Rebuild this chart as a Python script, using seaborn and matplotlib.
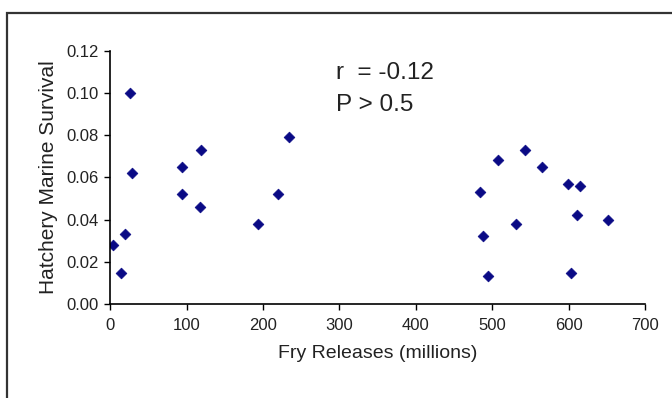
import matplotlib
matplotlib.use("Agg")
import matplotlib.pyplot as plt
import seaborn as sns
import pandas as pd
from matplotlib.patches import Rectangle

# Fry releases (millions) vs hatchery marine survival
fry_releases = [26, 28, 4, 20, 14, 94, 94, 119, 117, 193, 220, 234,
                484, 488, 494, 508, 531, 543, 565, 599, 615, 611, 603, 652]
survival = [0.100, 0.062, 0.028, 0.033, 0.0145, 0.065, 0.052, 0.073, 0.046, 0.038, 0.052, 0.079,
            0.053, 0.032, 0.0135, 0.068, 0.038, 0.073, 0.065, 0.057, 0.056, 0.042, 0.0145, 0.040]
x_ticks = [0, 100, 200, 300, 400, 500, 600, 700]
y_ticks = [0.00, 0.02, 0.04, 0.06, 0.08, 0.10, 0.12]

df = pd.DataFrame({"fry": fry_releases, "surv": survival})

sns.set_theme(style="ticks")
plt.rcParams["font.family"] = ["Liberation Sans", "DejaVu Sans"]

fig = plt.figure(figsize=(6.72, 3.98), dpi=100)
ax = fig.add_axes([0.164, 0.236, 0.796, 0.637])

sns.scatterplot(data=df, x="fry", y="surv", marker="D", s=30, color="#0a0a85",
                edgecolor="#0a0a85", linewidth=0.5, ax=ax, legend=False)

ax.set_xlim(0, 700)
ax.set_ylim(0, 0.12)
ax.set_xticks(x_ticks)
ax.set_yticks(y_ticks)
ax.set_yticklabels([f"{v:.2f}" for v in y_ticks])
ax.tick_params(axis="both", labelsize=12, direction="out", length=4, width=1,
               color="black", labelcolor="#222222")
ax.tick_params(axis="x", pad=6)
ax.tick_params(axis="y", pad=4)
sns.despine(ax=ax)
for side in ["left", "bottom"]:
    ax.spines[side].set_color("black")
    ax.spines[side].set_linewidth(1.2)

ax.set_xlabel("Fry Releases (millions)", fontsize=14, color="#222222", labelpad=9)
ax.set_ylabel("Hatchery Marine Survival", fontsize=15, color="#222222", labelpad=6)

ax.text(0.422, 0.912, "r  = -0.12", transform=ax.transAxes, fontsize=17.5,
        color="#222222", va="center", ha="left")
ax.text(0.422, 0.786, "P > 0.5", transform=ax.transAxes, fontsize=17.5,
        color="#222222", va="center", ha="left")

# outer frame (left and top visible, the rest runs off the image)
frame = Rectangle((7 / 672, -0.2), 1.2, 1 - 13 / 398 + 0.2, transform=fig.transFigure,
                  fill=False, edgecolor="#333333", linewidth=1.6, clip_on=False)
fig.patches.append(frame)

fig.savefig("out.png", dpi=100)
